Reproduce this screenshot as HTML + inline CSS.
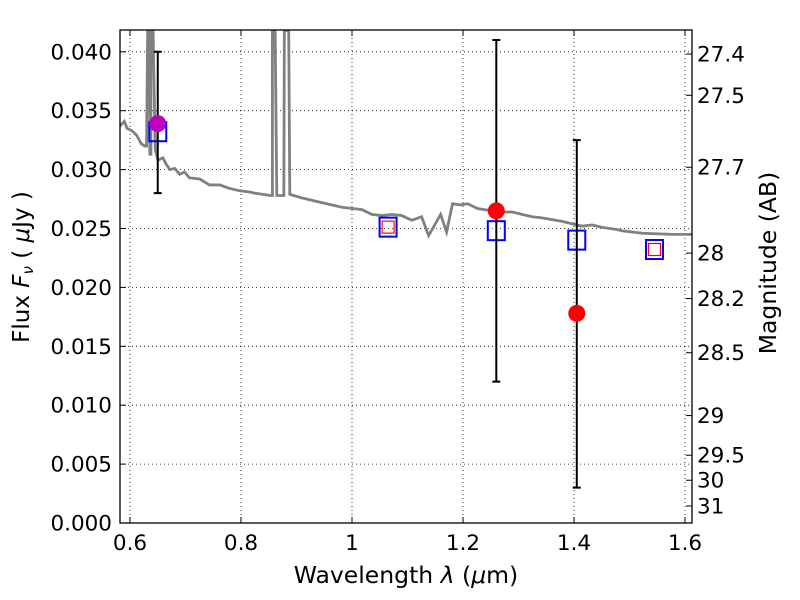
<!DOCTYPE html>
<html><head><meta charset="utf-8"><style>
body{margin:0;background:#fff}
svg{display:block;font-family:"DejaVu Sans","Liberation Sans",sans-serif}
</style></head><body>
<svg id="chart" width="800" height="600">
<g id="grid"></g>
<g id="marks"></g>
<rect x="120" y="30" width="572" height="493" fill="none" stroke="#000" stroke-width="1.3"/>
<g id="axes"></g>
<text x="406" y="583" font-size="23.5" text-anchor="middle">Wavelength  <tspan font-style="italic">λ</tspan> (<tspan font-style="italic">μ</tspan>m)</text>
<text transform="translate(29,267) rotate(-90)" font-size="23" text-anchor="middle">Flux  <tspan font-style="italic">F</tspan><tspan font-size="15" font-style="italic" dy="4">ν</tspan><tspan dy="-4">  ( </tspan><tspan font-style="italic">μ</tspan>Jy )</text>
<text transform="translate(776,263) rotate(-90)" font-size="23.5" text-anchor="middle">Magnitude (AB)</text>
</svg>
<script>
const xTicks=[0.6,0.8,1.0,1.2,1.4,1.6];
const xTickLabels=["0.6","0.8","1","1.2","1.4","1.6"];
const yTicks=[0,0.005,0.01,0.015,0.02,0.025,0.03,0.035,0.04];
const yTickLabels=["0.000","0.005","0.010","0.015","0.020","0.025","0.030","0.035","0.040"];
const magTicks=[27.4,27.5,27.7,28,28.2,28.5,29,29.5,30,31];
const magLabels=["27.4","27.5","27.7","28","28.2","28.5","29","29.5","30","31"];
const specWave=[0.5820,0.5898,0.5947,0.6035,0.6123,0.6201,0.6269,0.6299,0.6318,0.6357,0.6357,0.6377,0.6377,0.6416,0.6455,0.6504,0.6592,0.6660,0.6719,0.6807,0.6895,0.6983,0.7071,0.7256,0.7432,0.7618,0.7794,0.7980,0.8156,0.8244,0.8527,0.8566,0.8566,0.8615,0.8645,0.8772,0.8781,0.8860,0.8879,0.9094,0.9456,0.9818,1.0179,1.0355,1.0541,1.0717,1.0893,1.1079,1.1254,1.1381,1.1597,1.1704,1.1811,1.1939,1.2085,1.2261,1.2525,1.2711,1.2887,1.3063,1.3248,1.3424,1.3786,1.4148,1.4324,1.4510,1.4783,1.4871,1.5233,1.5771,1.6132];
const specFlux=[0.0337,0.0341,0.0335,0.0333,0.0329,0.0322,0.0320,0.0320,0.0418,0.0418,0.0313,0.0313,0.0418,0.0418,0.0317,0.0308,0.0310,0.0304,0.0300,0.0301,0.0296,0.0298,0.0293,0.0292,0.0287,0.0287,0.0284,0.0282,0.0281,0.0280,0.0278,0.0278,0.0418,0.0418,0.0278,0.0278,0.0418,0.0418,0.0279,0.0276,0.0272,0.0268,0.0266,0.0262,0.0261,0.0262,0.0261,0.0257,0.0260,0.0244,0.0262,0.0247,0.0271,0.0270,0.0271,0.0267,0.0265,0.0264,0.0264,0.0262,0.0260,0.0259,0.0256,0.0252,0.0253,0.0251,0.0249,0.0248,0.0246,0.0245,0.0245];
const photWave=[1.26,1.405];
const photFlux=[0.0265,0.0178];
const photLo=[0.012,0.003];
const photHi=[0.041,0.0325];
const magWave=[0.65];
const magFlux=[0.0339];
const magLo=[0.028];
const magHi=[0.040];
const modelWave=[0.65,1.065,1.26,1.405,1.545];
const modelFlux=[0.0333,0.0252,0.0249,0.0241,0.0233];
const fitWave=[1.065,1.545];
const fitFlux=[0.0252,0.0233];

const NS="http://www.w3.org/2000/svg";
const X=v=>352+(v-1)*555;
const Y=v=>523-v*11780;
function mk(parent,tag,attrs){const e=document.createElementNS(NS,tag);for(const k in attrs)e.setAttribute(k,attrs[k]);document.getElementById(parent).appendChild(e);return e;}
xTicks.forEach((t,i)=>{
 const l=mk('grid','line',{x1:X(t),x2:X(t),y1:30,y2:523,stroke:'#000','stroke-dasharray':'1,3','stroke-width':0.8});
 
 
 const tk=mk('axes','path',{d:`M${X(t)},523v-6M${X(t)},30v6`,stroke:'#000'});
 
 
 const tx=mk('axes','text',{x:X(t),y:550,'font-size':21.5,'text-anchor':'middle'});tx.textContent=xTickLabels[i];
 
 
});
yTicks.forEach((t,i)=>{
 const l=mk('grid','line',{x1:120,x2:692,y1:Y(t),y2:Y(t),stroke:'#000','stroke-dasharray':'1,3','stroke-width':0.8});
 
 
 const tk=mk('axes','path',{d:`M120,${Y(t)}h6`,stroke:'#000'});
 
 
 const tx=mk('axes','text',{x:112,y:Y(t)+7.5,'font-size':21.5,'text-anchor':'end'});tx.textContent=yTickLabels[i];
 
 
});
magTicks.forEach((m,i)=>{
 const f=Math.pow(10,(23.9-m)/2.5);const y=Y(f);
 const tk=mk('axes','path',{d:`M692,${y}h-6`,stroke:'#000'});
 
 
 const tx=mk('axes','text',{x:697,y:y+7.5,'font-size':21.5});tx.textContent=magLabels[i];
 
 
});
mk('marks','clipPath',{id:'clip'});mk('clip','rect',{x:120,y:30,width:572,height:493});
const sp=mk('marks','polyline',{points:specWave.map((w,i)=>X(w)+','+Y(specFlux[i])).join(' '),fill:'none',stroke:'#808080','stroke-width':2.8,'clip-path':'url(#clip)'});


function err(w,lo,hi,name){
 const e=mk('marks','path',{d:`M${X(w)},${Y(lo)}V${Y(hi)}M${X(w)-4},${Y(lo)}h8M${X(w)-4},${Y(hi)}h8`,stroke:'#000','stroke-width':2});
 
 
}
modelWave.forEach((w,i)=>{
 const r=mk('marks','rect',{x:X(w)-8.5,y:Y(modelFlux[i])-8.5,width:17,height:19,fill:'none',stroke:'#0000ff','stroke-width':2});
 
 
});
fitWave.forEach((w,i)=>{
 const r=mk('marks','rect',{x:X(w)-6,y:Y(fitFlux[i])-5,width:12,height:12,fill:'none',stroke:'#ff0000','stroke-width':1.2});
 
 
});
magWave.forEach((w,i)=>{
 err(w,magLo[i],magHi[i],'magenta-errorbar');
 const c=mk('marks','circle',{cx:X(w),cy:Y(magFlux[i]),r:8.5,fill:'#bf00bf'});
 
 
});
photWave.forEach((w,i)=>{
 err(w,photLo[i],photHi[i],'photometry-errorbar');
 const c=mk('marks','circle',{cx:X(w),cy:Y(photFlux[i]),r:8.5,fill:'#ff0000'});
 
 
});
</script>
</body></html>
